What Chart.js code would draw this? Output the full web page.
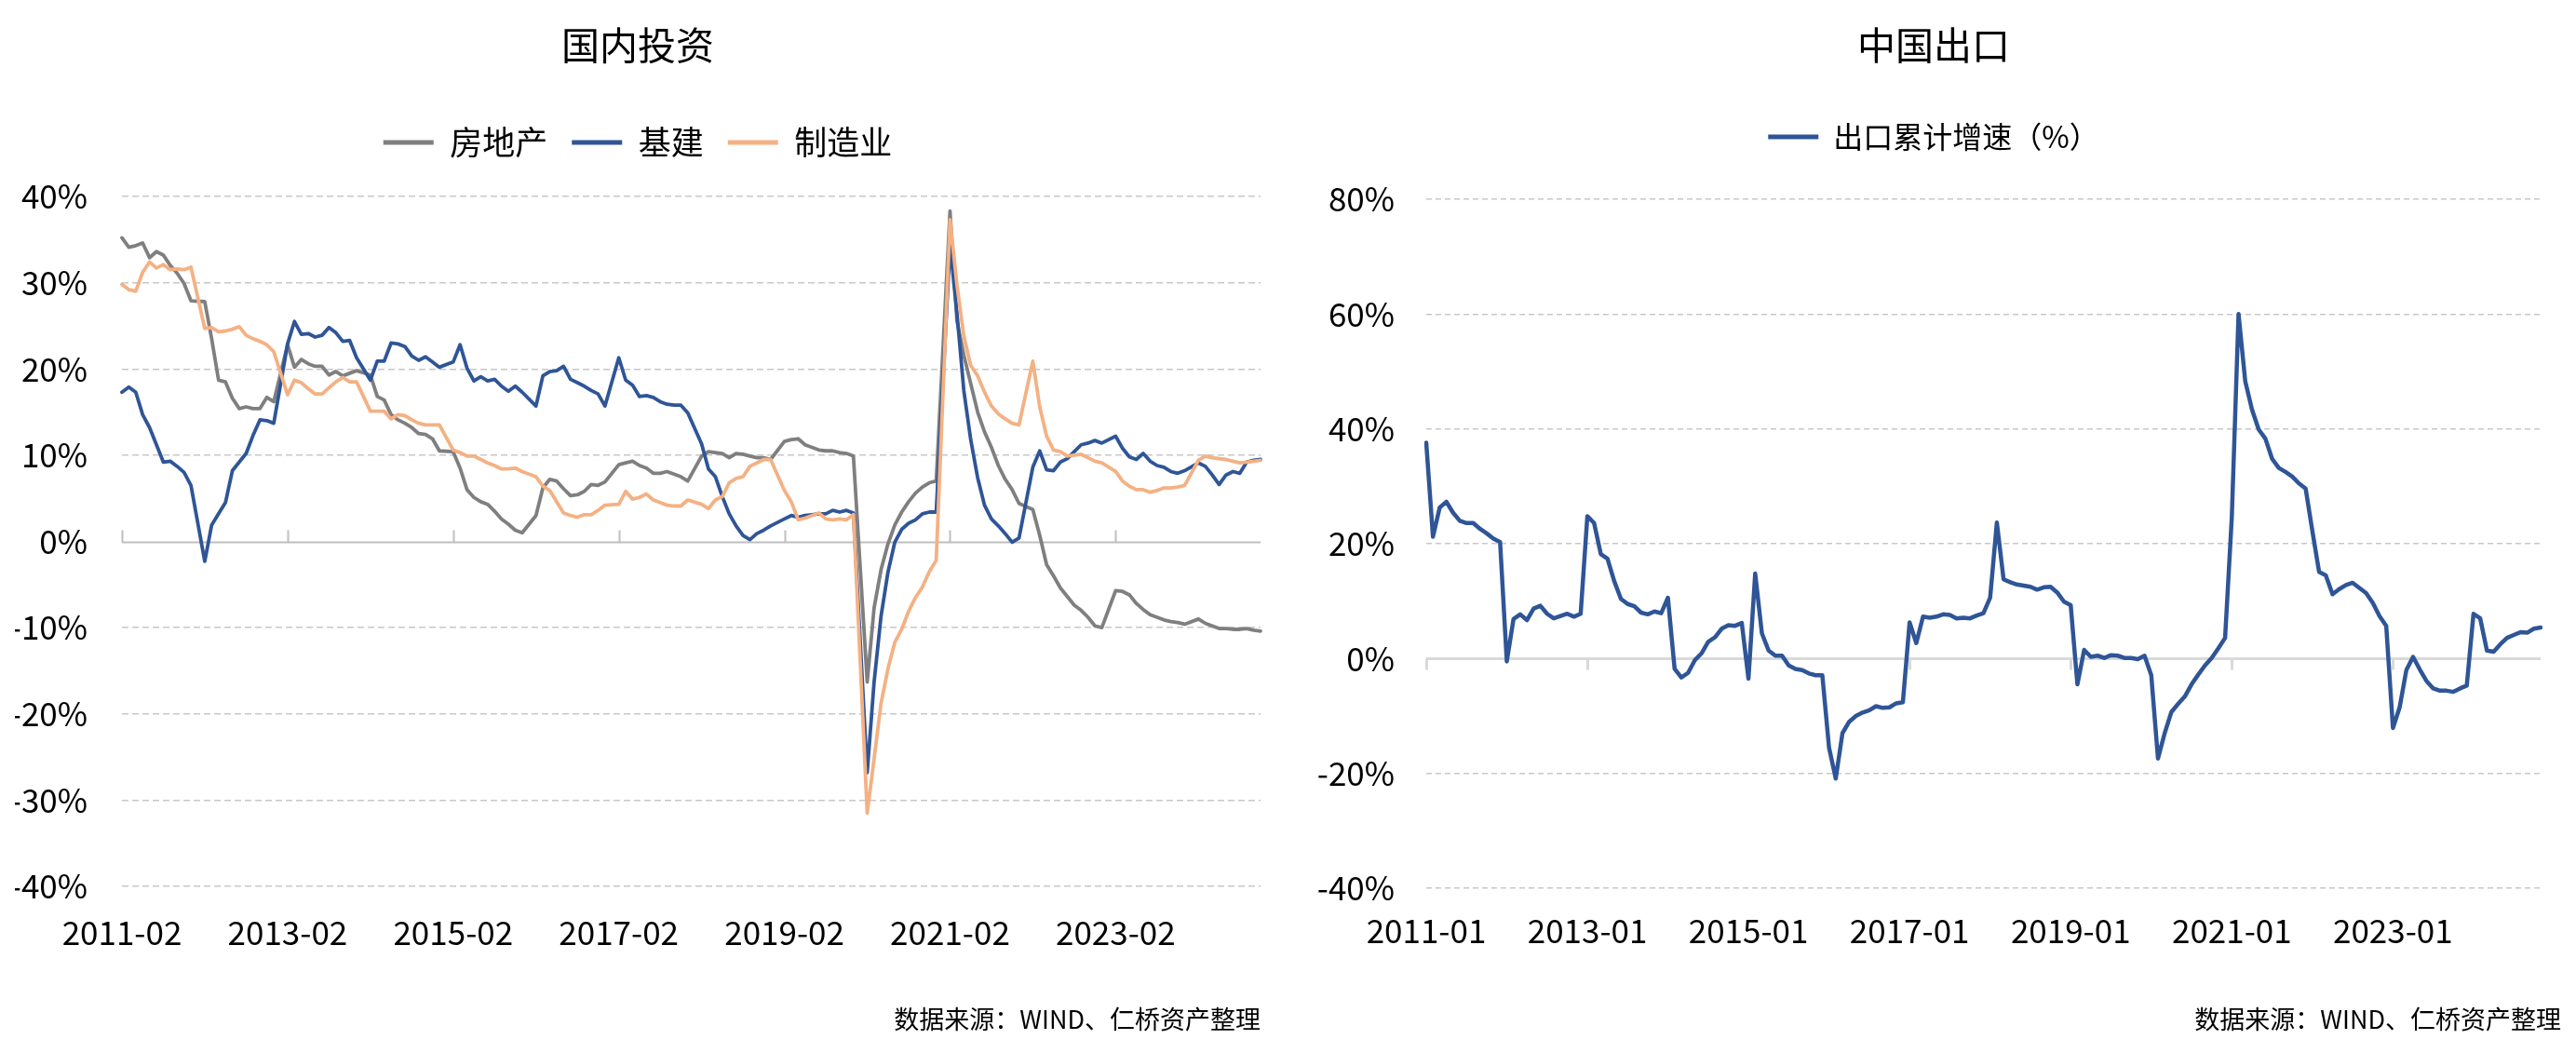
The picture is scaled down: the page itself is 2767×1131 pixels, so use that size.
<!DOCTYPE html>
<html>
<head>
<meta charset="utf-8">
<script src="https://cdn.jsdelivr.net/npm/chart.js@4.4.1/dist/chart.umd.min.js"></script>
<style>
  html, body { margin: 0; padding: 0; background: #ffffff; width: 2767px; height: 1131px; overflow: hidden; }
  #invest { position: absolute; left: 0; top: 0; }
  #export { position: absolute; left: 1383px; top: 0; }
</style>
</head>
<body>
<canvas id="invest" width="1383" height="1131" style="width:1383px;height:1131px"></canvas>
<canvas id="export" width="1384" height="1131" style="width:1384px;height:1131px"></canvas>
<script>
// ---------- categories ----------
function monthRange(y0, m0, y1, m1) {
  const out = [];
  let y = y0, m = m0;
  while (y < y1 || (y === y1 && m <= m1)) {
    out.push(y + '-' + String(m).padStart(2, '0'));
    m++; if (m > 12) { m = 1; y++; }
  }
  return out;
}
const investMonths = monthRange(2011, 2, 2024, 11);   // 166 months, January = no data
const exportMonths = monthRange(2011, 1, 2024, 11);   // 167 months

// ---------- tick labels ----------
const investTickLabels = ['2011-02', '2013-02', '2015-02', '2017-02', '2019-02', '2021-02', '2023-02'];
const exportTickLabels = ['2011-01', '2013-01', '2015-01', '2017-01', '2019-01', '2021-01', '2023-01'];

// ---------- series (cumulative YoY, %) ----------
const realEstate = [
  35.2, 34.1, 34.3, 34.6, 32.9, 33.6, 33.2, 32.0, 31.1, 29.9, 27.9,
  null, 27.8, 23.5, 18.7, 18.5, 16.6, 15.4, 15.6, 15.4, 15.4, 16.7, 16.2,
  null, 22.8, 20.2, 21.1, 20.6, 20.3, 20.3, 19.3, 19.7, 19.2, 19.5, 19.8,
  null, 19.3, 16.8, 16.4, 14.7, 14.1, 13.7, 13.2, 12.5, 12.4, 11.9, 10.5,
  null, 10.4, 8.5, 6.0, 5.1, 4.6, 4.3, 3.5, 2.6, 2.0, 1.3, 1.0,
  null, 3.0, 6.2, 7.2, 7.0, 6.1, 5.3, 5.4, 5.8, 6.6, 6.5, 6.9,
  null, 8.9, 9.1, 9.3, 8.8, 8.5, 7.9, 7.9, 8.1, 7.8, 7.5, 7.0,
  null, 9.9, 10.4, 10.3, 10.2, 9.7, 10.2, 10.1, 9.9, 9.7, 9.7, 9.5,
  null, 11.6, 11.8, 11.9, 11.2, 10.9, 10.6, 10.5, 10.5, 10.3, 10.2, 9.9,
  null, -16.3, -7.7, -3.3, -0.3, 1.9, 3.4, 4.6, 5.6, 6.3, 6.8, 7.0,
  null, 38.3, 25.6, 21.6, 18.3, 15.0, 12.7, 10.9, 8.8, 7.2, 6.0, 4.4,
  null, 3.7, 0.7, -2.7, -4.0, -5.4, -6.4, -7.4, -8.0, -8.8, -9.8, -10.0,
  null, -5.7, -5.8, -6.2, -7.2, -7.9, -8.5, -8.8, -9.1, -9.3, -9.4, -9.6,
  null, -9.0, -9.5, -9.8, -10.1, -10.1, -10.2, -10.2, -10.1, -10.3, -10.4
];
const infrastructure = [
  17.3, 17.9, 17.3, 14.7, 13.2, 11.2, 9.2, 9.3, 8.7, 8.0, 6.5,
  null, -2.3, 1.9, 3.2, 4.5, 8.2, 9.2, 10.2, 12.3, 14.1, 14.0, 13.7,
  null, 22.9, 25.5, 24.0, 24.1, 23.7, 23.9, 24.8, 24.2, 23.2, 23.3, 21.3,
  null, 18.7, 20.9, 20.9, 23.0, 22.9, 22.6, 21.5, 21.0, 21.4, 20.8, 20.2,
  null, 20.8, 22.8, 20.1, 18.6, 19.1, 18.6, 18.8, 18.0, 17.4, 18.0, 17.3,
  null, 15.7, 19.2, 19.7, 19.8, 20.3, 18.8, 18.4, 18.0, 17.5, 17.1, 15.7,
  null, 21.3, 18.7, 18.1, 16.8, 16.9, 16.7, 16.2, 15.9, 15.8, 15.8, 14.9,
  null, 11.3, 8.4, 7.5, 5.2, 3.2, 1.8, 0.7, 0.2, 0.9, 1.3, 1.8,
  null, 2.6, 3.0, 2.8, 3.0, 3.1, 3.2, 3.2, 3.6, 3.4, 3.6, 3.3,
  null, -26.8, -16.3, -8.7, -3.6, -0.1, 1.4, 2.1, 2.5, 3.2, 3.4, 3.4,
  null, 34.4, 26.5, 17.5, 11.8, 7.4, 4.2, 2.6, 1.8, 0.9, -0.1, 0.4,
  null, 8.6, 10.5, 8.3, 8.2, 9.2, 9.6, 10.4, 11.2, 11.4, 11.7, 11.4,
  null, 12.2, 10.8, 9.8, 9.5, 10.2, 9.3, 8.8, 8.6, 8.1, 7.9, 8.2,
  null, 9.1, 8.7, 7.7, 6.6, 7.7, 8.1, 7.9, 9.2, 9.4, 9.5
];
const manufacturing = [
  29.8, 29.2, 29.0, 31.2, 32.4, 31.7, 32.1, 31.5, 31.6, 31.5, 31.8,
  null, 24.7, 24.8, 24.3, 24.4, 24.6, 24.9, 23.9, 23.5, 23.2, 22.8, 22.0,
  null, 17.0, 18.7, 18.4, 17.7, 17.1, 17.1, 17.8, 18.5, 19.0, 18.5, 18.5,
  null, 15.1, 15.1, 15.1, 14.2, 14.7, 14.6, 14.1, 13.7, 13.5, 13.5, 13.5,
  null, 10.6, 10.3, 9.9, 9.9, 9.5, 9.1, 8.8, 8.4, 8.4, 8.5, 8.1,
  null, 7.5, 6.4, 5.9, 4.6, 3.3, 3.0, 2.8, 3.1, 3.1, 3.6, 4.2,
  null, 4.3, 5.8, 4.9, 5.1, 5.5, 4.8, 4.5, 4.2, 4.1, 4.1, 4.8,
  null, 4.3, 3.8, 4.8, 5.2, 6.8, 7.3, 7.5, 8.7, 9.1, 9.5, 9.5,
  null, 5.9, 4.6, 2.5, 2.7, 3.0, 3.3, 2.6, 2.5, 2.6, 2.5, 3.1,
  null, -31.5, -25.2, -18.8, -14.8, -11.7, -10.2, -8.1, -6.5, -5.3, -3.5, -2.2,
  null, 37.3, 29.8, 23.8, 20.4, 19.2, 17.3, 15.7, 14.8, 14.2, 13.7, 13.5,
  null, 20.9, 15.6, 12.2, 10.6, 10.4, 9.9, 10.0, 10.1, 9.7, 9.3, 9.1,
  null, 8.1, 7.0, 6.4, 6.0, 6.0, 5.7, 5.9, 6.2, 6.2, 6.3, 6.5,
  null, 9.4, 9.9, 9.7, 9.6, 9.5, 9.3, 9.1, 9.2, 9.3, 9.4
];
const exportGrowth = [
  37.6, 21.2, 26.3, 27.3, 25.4, 24.0, 23.6, 23.6, 22.6, 21.8, 20.9, 20.3,
  -0.5, 6.9, 7.7, 6.7, 8.7, 9.2, 7.8, 7.0, 7.4, 7.8, 7.3, 7.8,
  24.8, 23.6, 18.2, 17.4, 13.5, 10.4, 9.5, 9.1, 8.0, 7.7, 8.2, 7.9,
  10.6, -1.8, -3.3, -2.5, -0.3, 0.9, 2.9, 3.7, 5.2, 5.8, 5.7, 6.2,
  -3.5, 14.8, 4.4, 1.4, 0.5, 0.5, -1.2, -1.8, -2.0, -2.6, -2.9, -2.9,
  -15.5, -20.9, -13.0, -11.0, -10.0, -9.4, -9.0, -8.3, -8.6, -8.5, -7.8, -7.6,
  6.3, 2.7, 7.3, 7.1, 7.3, 7.7, 7.6, 7.0, 7.1, 7.0, 7.5, 7.9,
  10.6, 23.7, 13.8, 13.3, 12.9, 12.7, 12.5, 12.0, 12.4, 12.5, 11.5, 9.9,
  9.3, -4.5, 1.5, 0.3, 0.5, 0.1, 0.6, 0.5, 0.1, 0.1, -0.1, 0.5,
  -2.9, -17.4, -13.0, -9.3, -7.9, -6.6, -4.5, -2.8, -1.2, 0.1, 1.8, 3.6,
  24.7, 60.0, 48.3, 43.4, 39.9, 38.3, 34.8, 33.2, 32.5, 31.7, 30.5, 29.6,
  22.2, 15.1, 14.5, 11.2, 12.1, 12.8, 13.2, 12.3, 11.4, 9.7, 7.4, 5.7,
  -12.1, -8.5, -2.0, 0.3, -1.9, -3.9, -5.2, -5.6, -5.6, -5.8, -5.2, -4.7,
  7.8, 7.0, 1.4, 1.2, 2.5, 3.6, 4.1, 4.6, 4.5, 5.2, 5.4
];

// ---------- styling ----------
const FONT = "'Noto Sans CJK SC', 'Noto Sans', sans-serif";
Chart.defaults.font.family = FONT;
Chart.defaults.color = '#000000';
const GRAY = '#7f7f7f', BLUE = '#2f5597', ORANGE = '#f4b183';
const SOURCE = '数据来源：WIND、仁桥资产整理';

// zero axis line + category tick marks at the 0 value
const zeroAxis = {
  id: 'zeroAxis',
  beforeDatasetsDraw(chart, args, opts) {
    const { ctx, chartArea } = chart;
    const xs = chart.scales.x, ys = chart.scales.y;
    const y0 = Math.round(ys.getPixelForValue(0)) + 0.5;
    ctx.save();
    ctx.strokeStyle = opts.color;
    ctx.lineWidth = opts.width;
    ctx.beginPath();
    ctx.moveTo(chartArea.left, y0);
    ctx.lineTo(chartArea.right, y0);
    chart.data.labels.forEach((lab, i) => {
      if (opts.ticks.includes(lab)) {
        const px = Math.round(xs.getPixelForValue(i)) + 0.5;
        ctx.moveTo(px, y0);
        ctx.lineTo(px, y0 + opts.length);
      }
    });
    ctx.stroke();
    ctx.restore();
  }
};

function legendLabels(chart) {
  return chart.data.datasets.map((ds, i) => ({
    text: ds.label, fillStyle: ds.borderColor, strokeStyle: ds.borderColor,
    lineWidth: 0, hidden: false, datasetIndex: i, fontColor: '#000000'
  }));
}

function lineDS(label, data, color, width, order) {
  return {
    label, data, borderColor: color, backgroundColor: color, borderWidth: width,
    pointRadius: 0, pointHoverRadius: 0, tension: 0, spanGaps: true, fill: false,
    borderJoinStyle: 'round', borderCapStyle: 'round', order, xAxisID: 'x', yAxisID: 'y'
  };
}

function buildOptions(cfg) {
  const scales = {
    x: {
      type: 'category', position: 'bottom', offset: false,
      grid: { display: false, drawTicks: false }, border: { display: false },
      ticks: {
        autoSkip: false, maxRotation: 0, minRotation: 0, padding: cfg.xPad,
        font: { size: 35 }, color: '#000000',
        callback: function (v) { const l = this.getLabelForValue(v); return cfg.tickLabels.includes(l) ? l : null; }
      },
      afterFit: (s) => { s.height = cfg.xHeight; }
    },
    y: {
      type: 'linear', position: 'left', min: cfg.yMin, max: cfg.yMax,
      grid: {
        drawTicks: false, lineWidth: 1.5,
        color: (c) => (c.tick && c.tick.value === 0) ? 'rgba(0,0,0,0)' : '#c8c8c8'
      },
      border: { display: false, dash: cfg.dash },
      ticks: { stepSize: cfg.step, padding: cfg.yPad, font: { size: 35 }, color: '#000000', callback: (v) => v + '%' },
      afterFit: (s) => { s.width = cfg.yWidth; }
    },
    spacer: {
      type: 'linear', position: 'top', display: true, min: 0, max: 1,
      grid: { display: false, drawTicks: false }, border: { display: false }, ticks: { display: false },
      afterFit: (s) => { s.height = cfg.spacer; }
    }
  };
  if (cfg.rightGap) {
    scales.rightGap = {
      type: 'linear', position: 'right', display: true, min: 0, max: 1,
      grid: { display: false, drawTicks: false }, border: { display: false }, ticks: { display: false },
      afterFit: (s) => { s.width = cfg.rightGap; }
    };
  }
  return {
    responsive: false, animation: false, devicePixelRatio: 1,
    layout: { padding: { left: cfg.padL, right: cfg.padR, top: 0, bottom: 0 } },
    events: [],
    scales,
    plugins: {
      title: {
        display: true, text: cfg.title, color: '#000000',
        font: { size: 41, weight: 'normal' }, padding: { top: 23.4, bottom: cfg.titleGap }
      },
      legend: {
        display: true, position: 'top',
        labels: {
          font: { size: cfg.legendSize }, color: '#000000', boxWidth: 54, boxHeight: 5, padding: 26,
          generateLabels: legendLabels, sort: (a, b) => a.datasetIndex - b.datasetIndex
        }
      },
      subtitle: {
        display: true, position: 'bottom', align: 'end', text: SOURCE, color: '#000000',
        font: { size: 27, weight: 'normal' }, padding: { top: 57, bottom: 20 }
      },
      tooltip: { enabled: false },
      zeroAxis: cfg.zero
    }
  };
}

new Chart(document.getElementById('invest'), {
  type: 'line',
  data: {
    labels: investMonths,
    datasets: [
      lineDS('房地产', realEstate, GRAY, 3.8, 2),
      lineDS('基建', infrastructure, BLUE, 3.8, 1),
      lineDS('制造业', manufacturing, ORANGE, 3.8, 0)
    ]
  },
  options: buildOptions({
    title: '国内投资', titleGap: 36.9, spacer: 30.5, legendSize: 35,
    padL: 16, padR: 29, yWidth: 115, yPad: 37, xPad: 29, xHeight: 69.6,
    yMin: -40, yMax: 40, step: 10, dash: [7, 4], tickLabels: investTickLabels,
    zero: { color: '#bfbfbf', width: 2, length: -13, ticks: investTickLabels }
  }),
  plugins: [zeroAxis]
});

new Chart(document.getElementById('export'), {
  type: 'line',
  data: {
    labels: exportMonths,
    datasets: [lineDS('出口累计增速（%）', exportGrowth, BLUE, 4.5, 0)]
  },
  options: buildOptions({
    title: '中国出口', titleGap: 32.4, spacer: 41, legendSize: 32,
    padL: 20, padR: 16, rightGap: 22, yWidth: 129, yPad: 34, xPad: 25, xHeight: 67.6,
    yMin: -40, yMax: 80, step: 20, dash: [6, 4], tickLabels: exportTickLabels,
    zero: { color: '#d9d9d9', width: 3, length: 12, ticks: exportTickLabels }
  }),
  plugins: [zeroAxis]
});
</script>
</body>
</html>
